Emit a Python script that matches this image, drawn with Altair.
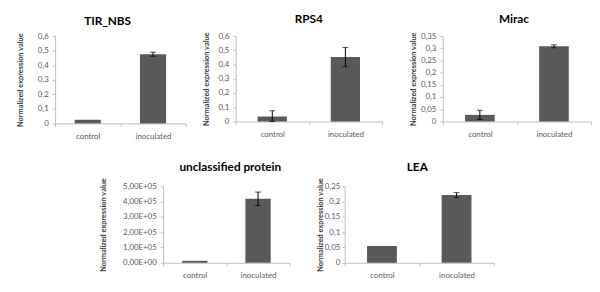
import altair as alt
import pandas as pd

genes = ["TIR_NBS", "RPS4", "Mirac", "unclassified protein", "LEA"]
conditions = ["control", "inoculated"]
control_vals = [0.025, 0.034, 0.027, 13000, 0.055]
inoculated_vals = [0.475, 0.452, 0.308, 418000, 0.221]
control_err = [0.0, 0.041, 0.019, 0.0, 0.0]
inoculated_err = [0.014, 0.068, 0.006, 44000, 0.008]
y_max = [0.6, 0.6, 0.35, 500000, 0.25]
y_step = [0.1, 0.1, 0.05, 100000, 0.05]

rows = []
for i, g in enumerate(genes):
    for c, v, e in ((conditions[0], control_vals[i], control_err[i]),
                    (conditions[1], inoculated_vals[i], inoculated_err[i])):
        rows.append({"gene": g, "condition": c, "value": v, "err": e,
                     "lo": max(v - e, 0), "hi": v + e})
df = pd.DataFrame(rows)

widths = [133, 149, 151, 129, 152]
heights = [89, 87, 87, 78, 78]
title_dx = [-13, 0, -3, 4, -2]
title_off = [4, 6, 6, 4, 4]
title_pad = [13, 8, 3, 15, 0]
label_pad = [4, 4, 4, 4, 2]

BAR = "#595959"


def panel(i, sci=False):
    g = genes[i]
    n = int(round(y_max[i] / y_step[i]))
    if sci:
        lab = "datum.value < 1 ? '0,00E+00' : replace(format(datum.value / 100000, '.2f'), '.', ',') + 'E+05'"
    else:
        lab = "replace(format(datum.value, '~g'), '.', ',')"
    base = alt.Chart(df).transform_filter(alt.datum.gene == g)
    x = alt.X("condition:N", sort=conditions, title=None,
              scale=alt.Scale(paddingInner=0, paddingOuter=0),
              axis=alt.Axis(labelAngle=0, tickBand="extent", labelPadding=6))
    y = alt.Y("value:Q", title="Normalized expression value",
              scale=alt.Scale(domain=[0, y_max[i]], nice=False),
              axis=alt.Axis(tickCount=n, labelExpr=lab,
                            titlePadding=title_pad[i], labelPadding=label_pad[i]))
    bars = base.mark_bar(color=BAR, width=alt.RelativeBandSize(0.4)).encode(x=x, y=y)
    err = base.transform_filter(alt.datum.err > 0)
    xr = alt.X("condition:N", sort=conditions)
    rule = err.mark_rule(color="#000000", strokeWidth=1).encode(
        x=xr, y="lo:Q", y2="hi:Q")
    cap_hi = err.mark_tick(color="#000000", thickness=1, size=6).encode(
        x=xr, y="hi:Q")
    cap_lo = err.mark_tick(color="#000000", thickness=1, size=6).encode(
        x=xr, y="lo:Q")
    return alt.layer(bars, rule, cap_hi, cap_lo).properties(
        width=widths[i], height=heights[i],
        title=alt.TitleParams(g, fontSize=12, font="Lato", fontWeight="bold",
                              color="#000000", anchor="middle", dx=title_dx[i],
                              offset=title_off[i]))


def spacer(w):
    return alt.Chart(pd.DataFrame({"a": [0]})).mark_point(opacity=0, size=1).properties(
        width=w, height=10)


top = alt.hconcat(alt.hconcat(panel(0), panel(1), spacing=15), panel(2), spacing=27)
bottom = alt.hconcat(spacer(45), alt.hconcat(panel(3, sci=True), panel(4), spacing=26),
                     spacing=0)
chart = alt.vconcat(top, bottom, spacing=21).properties(
    padding={"left": 8, "top": 2, "right": 0, "bottom": 0}
).configure_view(stroke=None).configure_axis(
    grid=False, domainColor="#bfbfbf", tickColor="#bfbfbf", tickSize=3,
    labelColor="#595959", labelFont="Lato", labelFontSize=8,
    titleFont="Lato", titleFontSize=7.5, titleFontWeight="bold",
    titleColor="#404040"
)

chart.save("out.html", embed_options={"renderer": "svg", "actions": False})
